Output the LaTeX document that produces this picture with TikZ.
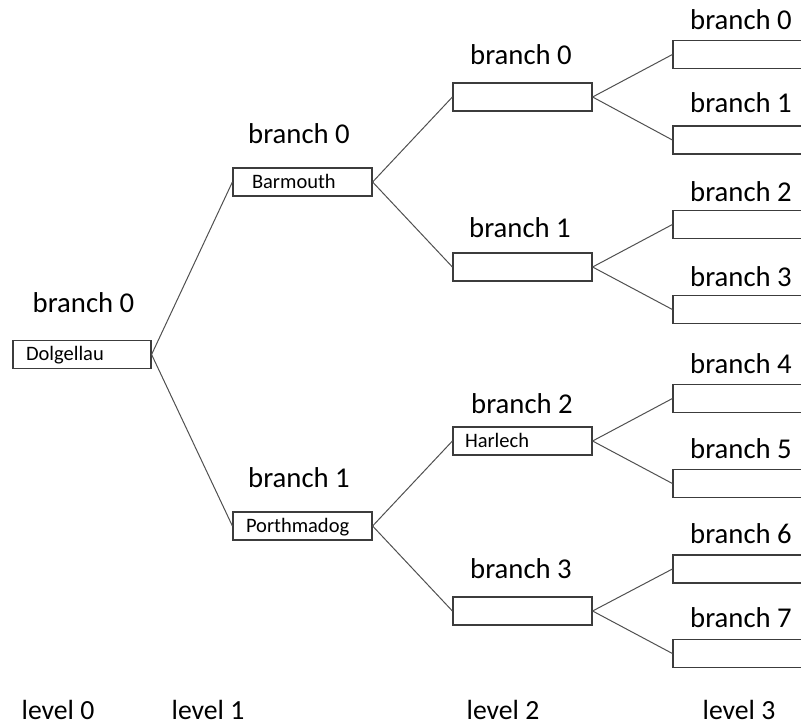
\documentclass[tikz,border=0pt]{standalone}
\usepackage{fontspec}
\setmainfont{Carlito}
\definecolor{boxc}{HTML}{3C3C3C}
\definecolor{linec}{HTML}{505050}
\newcommand{\branchfont}{\fontsize{28.7}{32}\selectfont}
\newcommand{\placefont}{\fontsize{20.5}{24}\selectfont}
\newcommand{\levelfont}{\fontsize{27.7}{32}\selectfont}
\tikzset{
  placebox/.style={draw=boxc, line width=1.2pt, fill=white,
    minimum width=#1, minimum height=28pt, inner xsep=0pt, inner ysep=0pt,
    text width=#1, text height=15pt, text depth=3pt,
    align=left, font=\placefont},
  placebox/.default=138pt,
  branchlabel/.style={anchor=base, inner sep=0pt, font=\branchfont},
  levellabel/.style={anchor=base, inner sep=0pt, font=\levelfont},
  link/.style={draw=linec, line width=1pt}
}
\begin{document}
\begin{tikzpicture}[x=1pt, y=-1pt]
\useasboundingbox (0,0) rectangle (801,728);

% level 0
\node[placebox] (r) at (82,354.5) {\hspace*{13pt}Dolgellau};
% level 1
\node[placebox=139pt] (a) at (302.5,182) {\hspace*{19pt}Barmouth};
\node[placebox=139pt] (b) at (302.5,526) {\hspace*{13pt}Porthmadog};
% level 2
\node[placebox=139pt] (a0) at (522.5,97) {};
\node[placebox=139pt] (a1) at (522.5,267) {};
\node[placebox=139pt] (b0) at (522.5,441) {\hspace*{12pt}Harlech};
\node[placebox=139pt] (b1) at (522.5,611) {};
% level 3 (boxes run past the right edge)
\node[placebox] (c0) at (742,54.5) {};
\node[placebox] (c1) at (742,140) {};
\node[placebox] (c2) at (742,224.5) {};
\node[placebox] (c3) at (742,309.5) {};
\node[placebox] (c4) at (742,398.5) {};
\node[placebox] (c5) at (742,483.5) {};
\node[placebox] (c6) at (742,569) {};
\node[placebox] (c7) at (742,653.5) {};

% connectors
\foreach \p/\c in {r/a, r/b, a/a0, a/a1, b/b0, b/b1,
                   a0/c0, a0/c1, a1/c2, a1/c3, b0/c4, b0/c5, b1/c6, b1/c7}
  \draw[link] (\p.east) -- (\c.west);

% branch labels
\node[branchlabel] (la) at (83.5,312) {branch 0};
\node[branchlabel] (lb0) at (299,143) {branch 0};
\node[branchlabel] (lb1) at (299,487) {branch 1};
\node[branchlabel] (lc0) at (521,64) {branch 0};
\node[branchlabel] (lc1) at (520,237) {branch 1};
\node[branchlabel] (lc2) at (522,413) {branch 2};
\node[branchlabel] (lc3) at (521,578) {branch 3};
\node[branchlabel] (ld0) at (741,30) {branch 0};
\node[branchlabel] (ld1) at (741,112) {branch 1};
\node[branchlabel] (ld2) at (741,201) {branch 2};
\node[branchlabel] (ld3) at (741,286) {branch 3};
\node[branchlabel] (ld4) at (741,373) {branch 4};
\node[branchlabel] (ld5) at (741,458) {branch 5};
\node[branchlabel] (ld6) at (741,543) {branch 6};
\node[branchlabel] (ld7) at (741,627) {branch 7};

% level captions
\node[levellabel] (v0) at (58,719) {level 0};
\node[levellabel] (v1) at (208,719) {level 1};
\node[levellabel] (v2) at (503,719) {level 2};
\node[levellabel] (v3) at (739,719) {level 3};
\end{tikzpicture}
\end{document}
